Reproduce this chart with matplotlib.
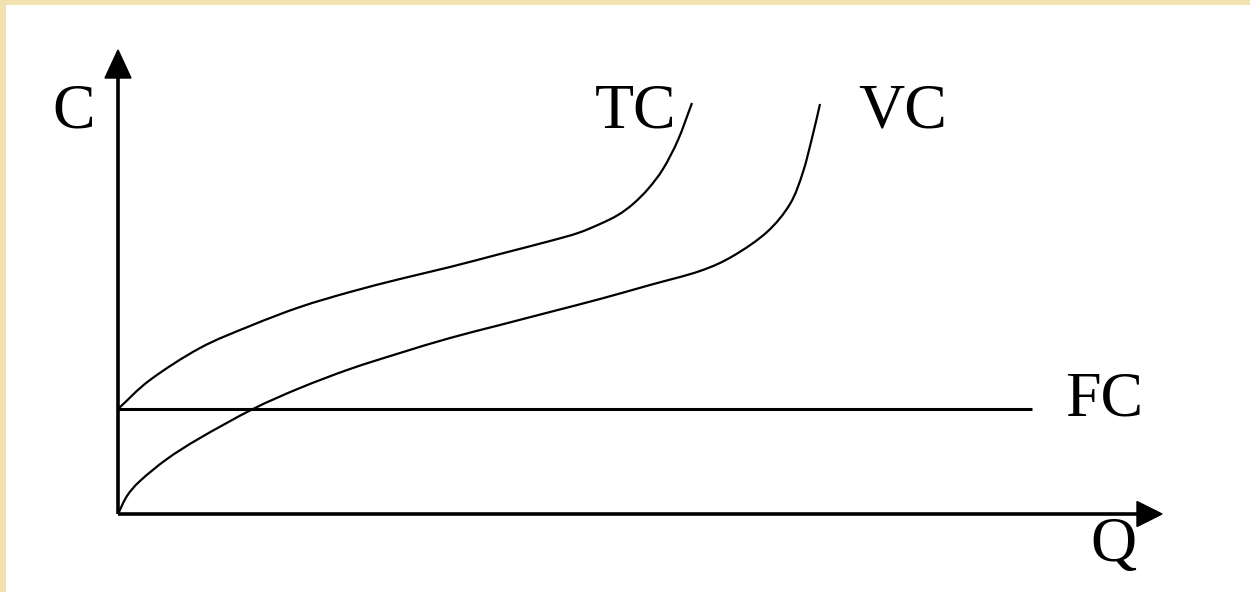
import matplotlib
matplotlib.use("Agg")
import matplotlib.pyplot as plt
import numpy as np
from matplotlib.patches import Rectangle, Polygon, PathPatch
from matplotlib.path import Path

# Data (schematic cost curves, quantity Q vs cost C)
tc_q = [0, 32, 82, 132, 182, 232, 282, 332, 382, 432, 460, 482, 500, 515, 530, 545, 560, 574]
tc_c = [105, 134, 166, 188, 207, 222, 235, 247, 260, 273, 281, 290, 299, 310, 325, 345, 374, 411]

vc_q = [0, 9, 22, 49, 82, 135, 182, 232, 282, 332, 382, 432, 482, 532, 582, 615, 649, 672, 685, 695, 702]
vc_c = [0, 18, 33, 55, 76, 105, 126, 145, 161, 176, 189, 202, 215, 229, 243, 258, 282, 310, 342, 380, 410]

fc_q = [0, 914]
fc_c = [105, 105]

labels = {"C": (-66, 386), "TC": (477, 387), "VC": (740, 386), "FC": (947, 99), "Q": (972, -47)}


def smooth_path(xs, ys):
    """Smooth curve through the given points (Catmull-Rom rendered as cubic Beziers)."""
    p = np.column_stack([xs, ys]).astype(float)
    ext = np.vstack([2 * p[0] - p[1], p, 2 * p[-1] - p[-2]])
    verts = [p[0]]
    codes = [Path.MOVETO]
    for i in range(1, len(ext) - 2):
        p0, p1, p2, p3 = ext[i - 1], ext[i], ext[i + 1], ext[i + 2]
        verts += [p1 + (p2 - p0) / 6, p2 - (p3 - p1) / 6, p2]
        codes += [Path.CURVE4] * 3
    return Path(verts, codes)


W, H = 1250, 592
fig = plt.figure(figsize=(W / 100, H / 100), dpi=100, facecolor="#F2E2B0")
fig.patches.append(Rectangle((6 / W, 0), 1, (H - 5) / H, transform=fig.transFigure,
                             facecolor="white", edgecolor="none", zorder=0))
ax = fig.add_axes([0, 0, 1, 1])
ax.set_zorder(2)
ax.set_xlim(-118, W - 118)
ax.set_ylim(-78, H - 78)
ax.axis("off")
ax.patch.set_alpha(0)

# axes with arrows
ax.plot([0, 0], [0, 440], color="black", lw=2.6, solid_capstyle="butt")
ax.plot([0, 1022], [0, 0], color="black", lw=2.6, solid_capstyle="butt")
ax.add_patch(Polygon([[-13, 436], [13, 436], [0, 464]], closed=True, color="black"))
ax.add_patch(Polygon([[1019, 12.5], [1019, -12.5], [1044, 0]], closed=True, color="black"))

# curves
ax.plot(fc_q, fc_c, color="black", lw=2.2, solid_capstyle="butt")
for qs, cs in [(tc_q, tc_c), (vc_q, vc_c)]:
    ax.add_patch(PathPatch(smooth_path(qs, cs), facecolor="none", edgecolor="black",
                           lw=1.6, capstyle="butt"))

for txt, (x, y) in labels.items():
    ax.text(x, y, txt, fontsize=46, family="Liberation Serif", ha="left", va="baseline", color="black")

fig.savefig("out.png", dpi=100, facecolor=fig.get_facecolor())
